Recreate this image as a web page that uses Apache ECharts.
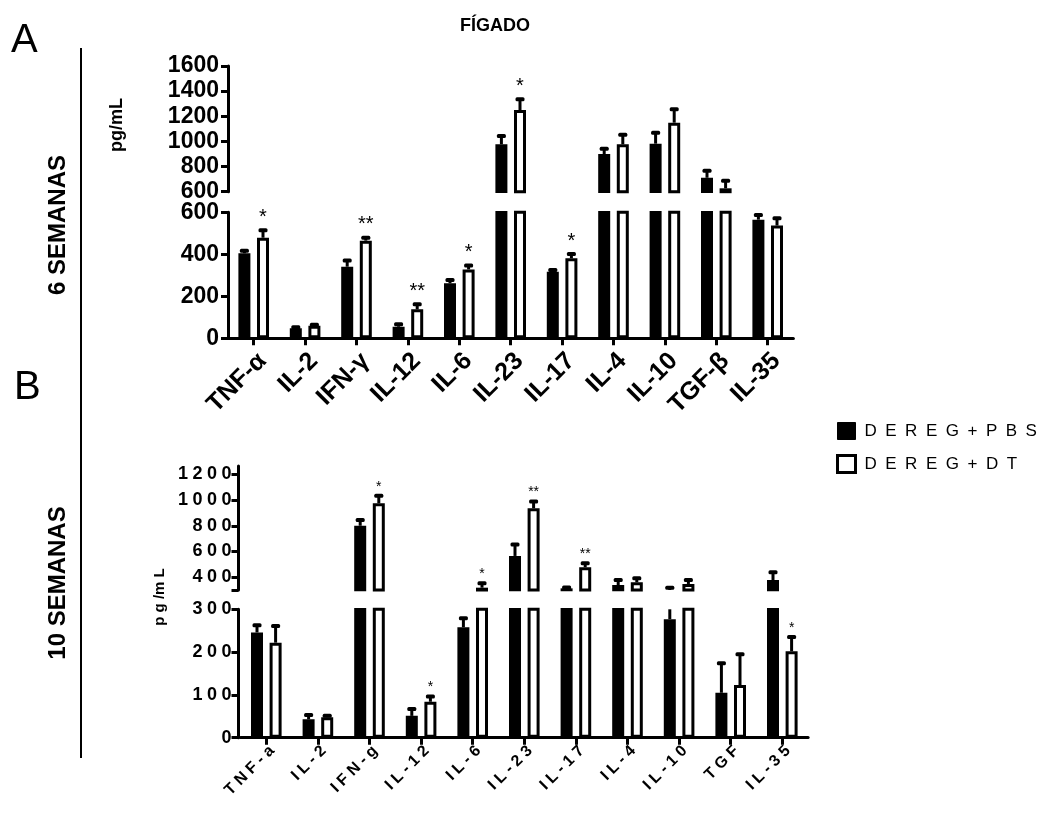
<!DOCTYPE html>
<html>
<head>
<meta charset="utf-8">
<script src="https://cdn.jsdelivr.net/npm/echarts@6/dist/echarts.min.js"></script>
<style>html,body{margin:0;padding:0;background:#fff;}#c{width:1059px;height:814px;}</style>
</head>
<body>
<div id="c"></div>
<script>
// ---------- DATA ----------
var cats6 = ['TNF-α','IL-2','IFN-γ','IL-12','IL-6','IL-23','IL-17','IL-4','IL-10','TGF-β','IL-35'];
var pbs6 = [405, 48, 341, 55, 262, 977, 317, 900, 982, 711, 565];
var pbs6Err = [12, 5, 29, 12, 16, 66, 8, 42, 87, 56, 22];
var dt6 = [479, 60, 465, 138, 328, 1250, 381, 977, 1149, 627, 537];
var dt6Err = [36, 5, 14, 24, 19, 85, 20, 76, 107, 61, 35];
var sig6 = ['*', '', '**', '**', '*', '*', '*', '', '', '', ''];

var cats10 = ['TNF-a','IL-2','IFN-g','IL-12','IL-6','IL-23','IL-17','IL-4','IL-10','TGF','IL-35'];
var pbs10 = [246, 43, 800, 51, 258, 565, 313, 339, 277, 105, 378];
var pbs10Err = [17, 10, 44, 16, 21, 90, 6, 39, 41, 69, 60];
var dt10 = [222, 48, 975, 84, 318, 936, 477, 360, 347, 123, 202];
var dt10Err = [39, 3, 59, 12, 34, 52, 31, 31, 31, 72, 33];
var sig10 = ['', '', '*', '*', '*', '**', '**', '', '', '', '*'];

var ticks6Upper = [600, 1600, 200];
var ticks6Lower = [0, 600, 200];
var ticks10UpperLabels = [400, 600, 800, 1000, 1200];
var ticks10Lower = [0, 300, 100];
var groupNames = ['DEREG+PBS', 'DEREG+DT'];

// ---------- STYLE ----------
var FONT = 'Liberation Sans, Arial, sans-serif';
var BW = 12, GAP = 0.55;
var OFF = BW * (1 + GAP) / 2;
function spaced(s, sep) { return String(s).split('').join(sep || ' '); }

function errSeries(name, gi, vals, errs, sig, side, starSize) {
  var data = vals.map(function (v, i) { return [i, v, errs[i]]; });
  return {
    type: 'custom', name: name, xAxisIndex: gi, yAxisIndex: gi, z: 5,
    data: data, encode: { x: 0, y: 1 },
    renderItem: function (params, api) {
      var i = api.value(0), v = api.value(1), e = api.value(2);
      var cs = params.coordSys;
      var top = cs.y, bot = cs.y + cs.height;
      var p0 = api.coord([i, v]), p1 = api.coord([i, v + e]);
      var x = p0[0] + side * OFF;
      var y0 = Math.min(p0[1], bot), y1 = Math.max(p1[1], top);
      var ch = [];
      if (y1 < y0) {
        ch.push({ type: 'line', shape: { x1: x, y1: y0, x2: x, y2: y1 },
          style: { stroke: '#000', lineWidth: 3 } });
      }
      if (p1[1] >= top && p1[1] <= bot) {
        ch.push({ type: 'rect', shape: { x: x - 4.5, y: p1[1] - 2, width: 9, height: 4, r: 1.5 },
          style: { fill: '#000' } });
        var s = sig ? sig[params.dataIndex] : '';
        if (s) {
          ch.push({ type: 'text', style: { text: s, x: x, y: p1[1] - 2 - (starSize > 14 ? 1 : 0),
            align: 'center', verticalAlign: 'bottom',
            font: 'normal ' + starSize + 'px ' + FONT, fill: '#000' } });
        }
      }
      return { type: 'group', children: ch };
    }
  };
}

function barSeries(gi, gIdx, vals) {
  return {
    type: 'bar', name: groupNames[gIdx], xAxisIndex: gi, yAxisIndex: gi,
    data: vals, barWidth: BW, barGap: (GAP * 100) + '%', clip: true,
    itemStyle: gIdx === 0 ? { color: '#000', borderColor: '#000', borderWidth: 2.5 }
                          : { color: '#fff', borderColor: '#000', borderWidth: 3 },
    emphasis: { disabled: true }, animation: false
  };
}

var axisLineStyle = { show: true, lineStyle: { color: '#000', width: 3 } };
var grids = [
  { left: 228, top: 66, width: 565.4, height: 125.7 },
  { left: 228, top: 212.3, width: 565.4, height: 126 },
  { left: 240.5, top: 466, width: 567.6, height: 124 },
  { left: 240.5, top: 609.3, width: 567.6, height: 128.4 }
];

function xAx(gi, cats, showAxis, labelFont, spacedLbl, margin) {
  return {
    type: 'category', gridIndex: gi, data: cats, show: showAxis,
    axisLine: axisLineStyle,
    axisTick: { show: true, alignWithLabel: true, length: 7, lineStyle: { color: '#000', width: 3 } },
    axisLabel: { rotate: 45, margin: margin, interval: 0, color: '#000', fontWeight: 'bold',
      fontFamily: FONT, fontSize: labelFont, verticalAlign: 'top',
      formatter: function (v) { return spacedLbl ? spaced(v) : v; } },
    splitLine: { show: false }
  };
}

function plain(v) { return String(v); }

var yAxes = [
  { type: 'value', gridIndex: 0, min: ticks6Upper[0], max: ticks6Upper[1], interval: ticks6Upper[2],
    axisLine: axisLineStyle, axisTick: { show: true, length: 7, lineStyle: { color: '#000', width: 3 } },
    axisLabel: { color: '#000', fontWeight: 'bold', fontFamily: FONT, fontSize: 23, margin: 9, formatter: plain },
    splitLine: { show: false } },
  { type: 'value', gridIndex: 1, min: ticks6Lower[0], max: ticks6Lower[1], interval: ticks6Lower[2],
    axisLine: axisLineStyle, axisTick: { show: true, length: 7, lineStyle: { color: '#000', width: 3 } },
    axisLabel: { color: '#000', fontWeight: 'bold', fontFamily: FONT, fontSize: 23, margin: 9, formatter: plain },
    splitLine: { show: false } },
  { type: 'value', gridIndex: 2, min: 300, max: 1265, offset: 2,
    axisLine: axisLineStyle,
    axisTick: { show: true, length: 7, lineStyle: { color: '#000', width: 3 },
      customValues: [300].concat(ticks10UpperLabels) },
    axisLabel: { color: '#000', fontWeight: 'bold', fontFamily: FONT, fontSize: 18, margin: 7,
      customValues: ticks10UpperLabels, formatter: function (v) { return spaced(v, '\u2005'); } },
    splitLine: { show: false } },
  { type: 'value', gridIndex: 3, min: ticks10Lower[0], max: ticks10Lower[1], interval: ticks10Lower[2], offset: 2,
    axisLine: axisLineStyle, axisTick: { show: true, length: 7, lineStyle: { color: '#000', width: 3 } },
    axisLabel: { color: '#000', fontWeight: 'bold', fontFamily: FONT, fontSize: 18, margin: 7,
      formatter: function (v) { return spaced(v, '\u2005'); } },
    splitLine: { show: false } }
];

var series = [];
[[0, pbs6, dt6, pbs6Err, dt6Err, sig6, 20], [1, pbs6, dt6, pbs6Err, dt6Err, sig6, 20],
 [2, pbs10, dt10, pbs10Err, dt10Err, sig10, 14], [3, pbs10, dt10, pbs10Err, dt10Err, sig10, 14]]
.forEach(function (d) {
  var gi = d[0];
  series.push(barSeries(gi, 0, d[1]));
  series.push(barSeries(gi, 1, d[2]));
  series.push(errSeries('errA' + gi, gi, d[1], d[3], null, -1, d[6]));
  series.push(errSeries('errB' + gi, gi, d[2], d[4], d[5], 1, d[6]));
});

var option = {
  backgroundColor: '#fff',
  animation: false,
  title: { text: 'FÍGADO', left: 490, top: 12, textAlign: 'center',
    textStyle: { fontFamily: FONT, fontWeight: 'bold', fontSize: 18, color: '#000' } },
  legend: {
    left: 831, top: 417, orient: 'vertical', itemWidth: 18, itemHeight: 17, itemGap: 14,
    selectedMode: false,
    data: [
      { name: groupNames[0], icon: 'rect', itemStyle: { color: '#000', borderColor: '#000', borderWidth: 1 } },
      { name: groupNames[1], icon: 'rect', itemStyle: { color: '#fff', borderColor: '#000', borderWidth: 3 } }
    ],
    formatter: function (n) { return n.split('').join('\u2002'); },
    textStyle: { fontFamily: FONT, fontSize: 17, color: '#000', padding: [0, 0, 0, 4] }
  },
  grid: grids,
  xAxis: [xAx(0, cats6, false, 25, false, 10), xAx(1, cats6, true, 25, false, 10),
          xAx(2, cats10, false, 16, true, 5), xAx(3, cats10, true, 16, true, 5)],
  yAxis: yAxes,
  series: series,
  graphic: [
    { type: 'text', left: 11, top: 21, style: { text: 'A', font: 'normal 40px ' + FONT, fill: '#000' } },
    { type: 'text', left: 14, top: 368, style: { text: 'B', font: 'normal 40px ' + FONT, fill: '#000' } },
    { type: 'line', shape: { x1: 81, y1: 48, x2: 81, y2: 758 }, style: { stroke: '#000', lineWidth: 2 } },
    { type: 'text', x: 58, y: 225, rotation: Math.PI / 2,
      style: { text: '6 SEMANAS', font: 'bold 24px ' + FONT, fill: '#000', align: 'center', verticalAlign: 'middle' } },
    { type: 'text', x: 58, y: 583, rotation: Math.PI / 2,
      style: { text: '10 SEMANAS', font: 'bold 24px ' + FONT, fill: '#000', align: 'center', verticalAlign: 'middle' } },
    { type: 'text', x: 117, y: 125, rotation: Math.PI / 2,
      style: { text: 'pg/mL', font: 'bold 18px ' + FONT, fill: '#000', align: 'center', verticalAlign: 'middle' } },
    { type: 'text', x: 160, y: 597, rotation: Math.PI / 2,
      style: { text: 'p g /m L', font: 'bold 15px ' + FONT, fill: '#000', align: 'center', verticalAlign: 'middle' } }
  ]
};

var chart = echarts.init(document.getElementById('c'), null, { renderer: 'canvas' });
chart.setOption(option);
</script>
</body>
</html>
